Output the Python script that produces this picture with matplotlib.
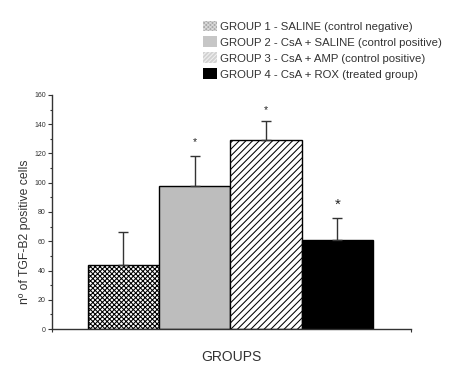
import matplotlib
matplotlib.use("Agg")
import matplotlib.pyplot as plt
from matplotlib.patches import Patch
from matplotlib.ticker import MultipleLocator

plt.rcParams['font.family'] = ['Liberation Sans', 'DejaVu Sans']
plt.rcParams['hatch.linewidth'] = 0.75

# ---- data ----
groups = ["GROUP 1 - SALINE (control negative)",
          "GROUP 2 - CsA + SALINE (control positive)",
          "GROUP 3 - CsA + AMP (control positive)",
          "GROUP 4 - CsA + ROX (treated group)"]
values = [44, 98, 129, 61]
errors = [22.5, 20.5, 13.5, 15]
significant = [False, True, True, True]
y_ticks = [0, 20, 40, 60, 80, 100, 120, 140, 160]

# ---- style ----
positions = [1, 2, 3, 4]
face = ['white', '#bdbdbd', 'white', 'black']
hatches = ['xxxxxxx', None, '/////', None]
leg_face = ['#a8a8a8', '#c6c6c6', '#d2d2d2', 'black']
leg_hatch = ['xxxxxxxx', None, '////////', None]
leg_hatchcol = ['#d8d8d8', None, '#f0f0f0', None]
star_size = [7, 7.5, 7.5, 11]
star_off = [10, 10, 7.5, 9.5]

fig = plt.figure(figsize=(4.5, 3.75), dpi=100)
ax = fig.add_axes([52/450, 1-329/375, (411-52)/450, (329-95)/375])

for p, v, fc, h in zip(positions, values, face, hatches):
    ax.bar(p, v, width=1.0, color=fc, edgecolor='black', linewidth=1.0,
           hatch=h, zorder=2)

ax.errorbar(positions, values, yerr=[[0]*4, errors], fmt='none',
            ecolor='#333333', elinewidth=1.0, capsize=3.3, capthick=1.0,
            zorder=3)

for p, v, e, s, fs, off in zip(positions, values, errors, significant,
                               star_size, star_off):
    if s:
        ax.annotate('*', (p, v + e), xytext=(0, off),
                    textcoords='offset points', ha='center', va='center',
                    fontsize=fs, color='#222222')

ax.set_xlim(0, 5.03)
ax.set_ylim(0, 160)
ax.set_yticks(y_ticks)
ax.yaxis.set_minor_locator(MultipleLocator(10))
ax.set_xticks([0, 5.03])
ax.set_xticklabels([])
ax.tick_params(axis='y', which='major', labelsize=5, length=3, width=0.8,
               colors='#333333', pad=1.5)
ax.tick_params(axis='y', which='minor', length=1.8, width=0.8,
               colors='#333333')
ax.tick_params(axis='x', length=2.5, width=0.8, colors='#333333')
for sp in ['top', 'right']:
    ax.spines[sp].set_visible(False)
for sp in ['left', 'bottom']:
    ax.spines[sp].set_color('#333333')
    ax.spines[sp].set_linewidth(1.0)

fig.text(231/450, 1-357/375, 'GROUPS', ha='center', va='center',
         fontsize=10, color='#333333')
fig.text(25/450, 1-232/375, 'nº of TGF-B2 positive cells', rotation=90,
         ha='center', va='center', fontsize=8.8, color='#333333')

handles = []
for fc, h, hc in zip(leg_face, leg_hatch, leg_hatchcol):
    kw = dict(facecolor=fc, edgecolor=hc if hc else fc, linewidth=0)
    handles.append(Patch(hatch=h, **kw))
leg = fig.legend(handles, groups, loc='upper left',
                 bbox_to_anchor=(203/450, 1-20.5/375), frameon=False,
                 fontsize=8.2, handlelength=1.25, handleheight=1.05,
                 handletextpad=0.2, labelspacing=0.42, borderpad=0,
                 borderaxespad=0)
for t in leg.get_texts():
    t.set_color('#333333')

fig.savefig('out.png', dpi=100)
